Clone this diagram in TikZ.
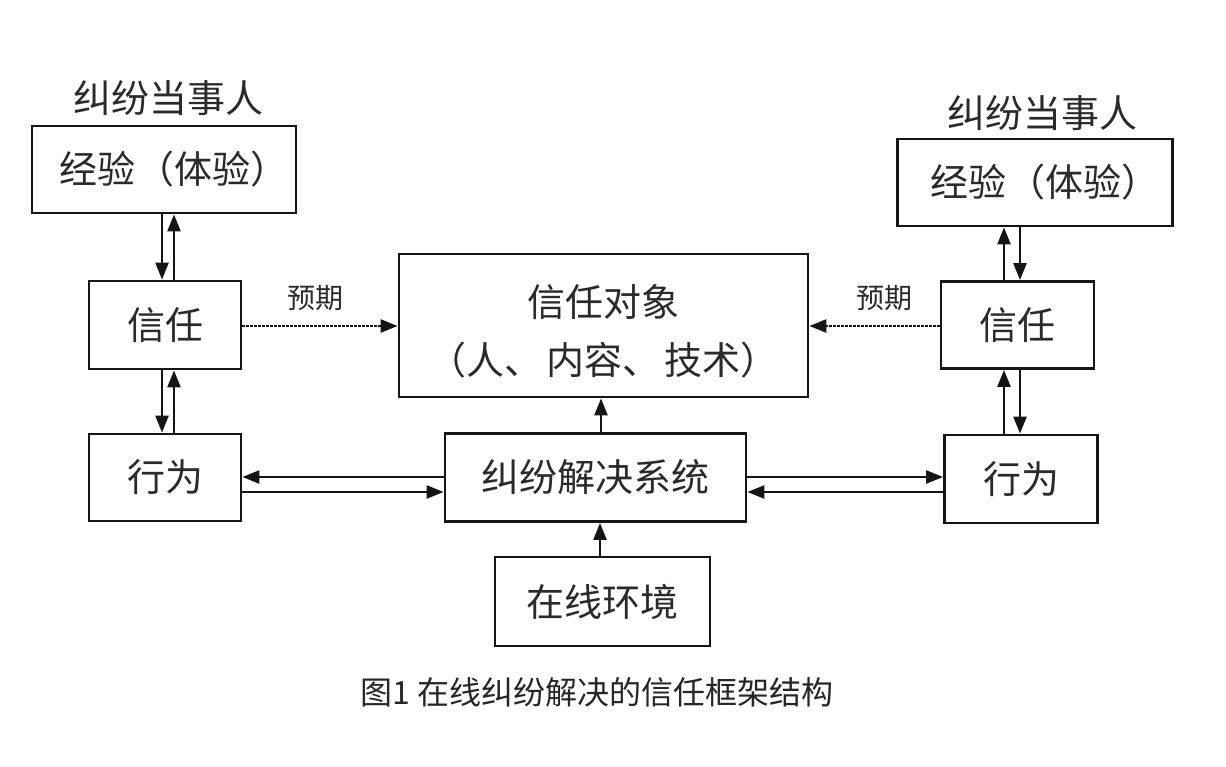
\documentclass[tikz,border=0pt]{standalone}
\usepackage{fontspec}
\newfontfamily\cjk{Noto Sans CJK SC}
\usetikzlibrary{arrows.meta}
\definecolor{txt}{HTML}{2A2A2A}
\definecolor{ln}{HTML}{151515}
\begin{document}
\begin{tikzpicture}[x=1pt,y=-1pt,
  box/.style={draw=ln,line width=2.8pt,rectangle,inner sep=0pt,text=txt,font=\cjk\fontsize{38}{46}\selectfont},
  txtnode/.style={inner sep=0pt,text=txt,font=\cjk\fontsize{38}{58}\selectfont,align=center},
  lbl/.style={inner sep=0pt,text=txt,font=\cjk\fontsize{38}{46}\selectfont},
  small/.style={inner sep=0pt,text=txt,font=\cjk\fontsize{28}{32}\selectfont},
  arr/.style={draw=ln,line width=2.5pt,-{Triangle[length=17pt,width=13pt]}},
  dotarr/.style={draw=ln,line width=2.6pt,dash pattern=on 2.2pt off 1.8pt,-{Triangle[length=17pt,width=13pt]}}]
\useasboundingbox (0,0) rectangle (1226,766);
% nodes
\node[lbl] (pL) at (168,98) {纠纷当事人};
\node[lbl] (pR) at (1042,113) {纠纷当事人};
\node[box,minimum width=264pt,minimum height=87pt] (eL) at (164,169.5) {\kern8pt经验\kern2pt（体验）\kern-12pt};
\node[box,minimum width=152pt,minimum height=88pt] (tL) at (165,325) {信任};
\node[box,minimum width=152pt,minimum height=87pt] (bL) at (165,477.5) {行为};
\node[box,minimum width=409pt,minimum height=143pt] (obj) at (603.5,325.5) {};
\node[txtnode] (objt) at (603.5,331) {信任对象\\（人、\kern4pt内容、\kern4pt技术）};
\node[box,minimum width=301pt,minimum height=88pt] (sys) at (595.5,477.5) {纠纷解决系统};
\node[box,minimum width=215pt,minimum height=89pt] (env) at (602.5,601.5) {在线环境};
\node[box,minimum width=275pt,minimum height=87pt] (eR) at (1035,182.5) {\kern8pt经验\kern2pt（体验）\kern-12pt};
\node[box,minimum width=153pt,minimum height=87pt] (tR) at (1017.5,325) {信任};
\node[box,minimum width=153pt,minimum height=88pt] (bR) at (1021,479) {行为};
\node[small] (yL) at (315,298) {预期};
\node[small] (yR) at (884,298) {预期};
\node[inner sep=0pt,text=black!85,font=\cjk\fontsize{32}{38}\selectfont] (cap) at (597,692) {图1 在线纠纷解决的信任框架结构};
% helper coordinates
\coordinate (xLd) at (162,0);
\coordinate (xLu) at (174,0);
\coordinate (xRu) at (1004,0);
\coordinate (xRd) at (1020,0);
\coordinate (xC) at (601,0);
\coordinate (xC2) at (600,0);
\coordinate (yU) at (0,477);
\coordinate (yD) at (0,492);
\coordinate (yM) at (0,326);
% left vertical arrows
\draw[arr] (eL.south -| xLd) -- (tL.north -| xLd);
\draw[arr] (tL.north -| xLu) -- (eL.south -| xLu);
\draw[arr] (tL.south -| xLd) -- (bL.north -| xLd);
\draw[arr] (bL.north -| xLu) -- (tL.south -| xLu);
% right vertical arrows
\draw[arr] (tR.north -| xRu) -- (eR.south -| xRu);
\draw[arr] (eR.south -| xRd) -- (tR.north -| xRd);
\draw[arr] (bR.north -| xRu) -- (tR.south -| xRu);
\draw[arr] (tR.south -| xRd) -- (bR.north -| xRd);
% horizontal arrows
\draw[arr] (sys.west |- yU) -- (bL.east |- yU);
\draw[arr] (bL.east |- yD) -- (sys.west |- yD);
\draw[arr] (sys.east |- yU) -- (bR.west |- yU);
\draw[arr] (bR.west |- yD) -- (sys.east |- yD);
% center vertical arrows
\draw[arr] (sys.north -| xC) -- (obj.south -| xC);
\draw[arr] (env.north -| xC2) -- (sys.south -| xC2);
% dotted expectation arrows
\draw[dotarr] (tL.east |- yM) -- (obj.west |- yM);
\draw[dotarr] (tR.west |- yM) -- (obj.east |- yM);
\end{tikzpicture}
\end{document}
